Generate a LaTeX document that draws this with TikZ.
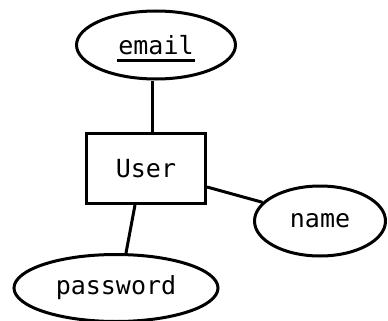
\documentclass[tikz,border=0pt]{standalone}
\usepackage{fontspec}
\setmonofont{DejaVu Sans Mono}
\usepackage{tikz}
\usetikzlibrary{shapes, positioning}
\tikzstyle{attr}=[ellipse, draw, line width=3pt, inner sep=0pt, fill=white, font=\ttfamily\fontsize{25}{29}\selectfont]
\tikzstyle{entity}=[rectangle, draw, line width=3pt, inner sep=0pt, fill=white, font=\ttfamily\fontsize{25}{29}\selectfont]

\begin{document}
\begin{tikzpicture}[x=1pt, y=-1pt, line width=3pt]
\useasboundingbox (0,0) rectangle (388,321);
\node [entity, minimum width=119pt, minimum height=70pt] (user) at (146,168.5) {User};
\node [attr, minimum width=159pt, minimum height=68pt] (email) at (156,45) {email};
\node [attr, minimum width=131pt, minimum height=70pt] (name) at (320,221) {name};
\node [attr, minimum width=204pt, minimum height=67pt] (password) at (116,288) {password};
%key underline
\draw ([xshift=-39pt, yshift=-16pt]email.center) -- ([xshift=39pt, yshift=-16pt]email.center);
\draw ([xshift=-4pt]email.south) -- ([xshift=6pt]user.north);
\draw ([yshift=18pt]user.south east) -- (name.162);
\draw ([xshift=-11pt]user.south) -- ([xshift=10pt]password.north);
\end{tikzpicture}
\end{document}
